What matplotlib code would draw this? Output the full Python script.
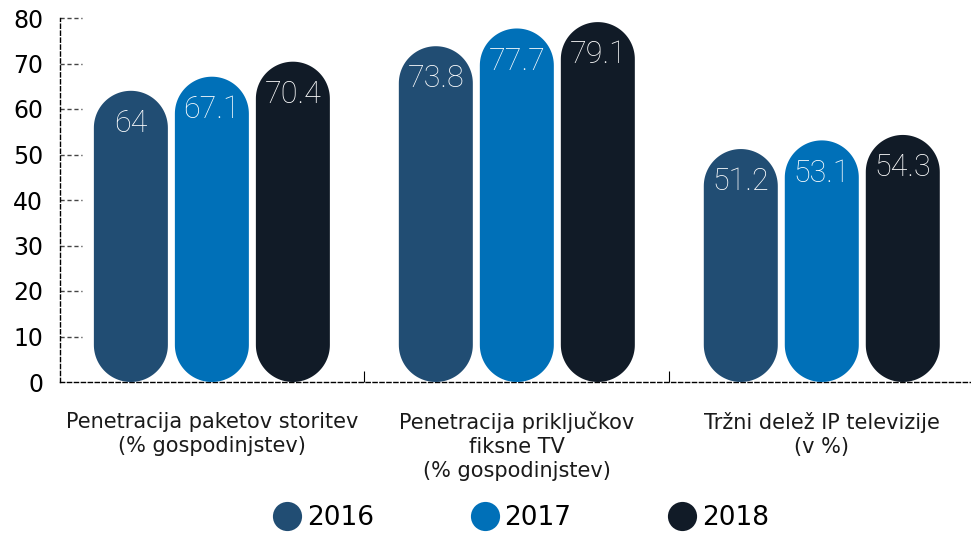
import numpy as np
import matplotlib
matplotlib.use("Agg")
import matplotlib.pyplot as plt
from matplotlib.patches import Polygon
from matplotlib.lines import Line2D
import matplotlib.transforms as mtransforms

plt.rcParams['font.family'] = ['DejaVu Sans']

categories = ["Penetracija paketov storitev\n(% gospodinjstev)",
              "Penetracija priključkov\nfiksne TV\n(% gospodinjstev)",
              "Tržni delež IP televizije\n(v %)"]
years = ["2016", "2017", "2018"]
values = {
    "2016": [64, 73.8, 51.2],
    "2017": [67.1, 77.7, 53.1],
    "2018": [70.4, 79.1, 54.3],
}
labels = {
    "2016": ["64", "73.8", "51.2"],
    "2017": ["67.1", "77.7", "53.1"],
    "2018": ["70.4", "79.1", "54.3"],
}
colors = {"2016": "#214d73", "2017": "#0070b8", "2018": "#111b27"}

W, H = 971, 533
fig = plt.figure(figsize=(W / 100, H / 100), dpi=100)
ax = fig.add_axes([60 / W, (H - 382) / H, 910 / W, 364 / H])
xmin, xmax = -0.498, 2.486
ax.set_xlim(xmin, xmax)
ax.set_ylim(0, 80)

# pixel scale, so the rounded ends stay circular
px_x = 910 / (xmax - xmin)
px_y = 364 / 80
bar_w = 74 / px_x
offset = 81 / px_x
rx = bar_w / 2
ry = (74 / 2) / px_y


def pill(cx, top):
    t1 = np.linspace(0, np.pi, 60)
    t2 = np.linspace(np.pi, 2 * np.pi, 60)
    xs = np.concatenate([cx + rx * np.cos(t1), cx + rx * np.cos(t2)])
    ys = np.concatenate([top - ry + ry * np.sin(t1), ry + ry * np.sin(t2)])
    return np.column_stack([xs, ys])


for i, yr in enumerate(years):
    for j, v in enumerate(values[yr]):
        cx = j + (i - 1) * offset
        ax.add_patch(Polygon(pill(cx, v), closed=True, facecolor=colors[yr],
                             edgecolor='none', zorder=3))
        ax.text(cx, v - 7.2, labels[yr][j], ha='center', va='center',
                color='white', fontsize=22, family=['Roboto', 'DejaVu Sans'],
                fontweight='light', zorder=4)

for s in ['top', 'right']:
    ax.spines[s].set_visible(False)
for s in ['left', 'bottom']:
    ax.spines[s].set_linestyle((0, (3, 2)))
    ax.spines[s].set_linewidth(1)
    ax.spines[s].set_color('black')

ax.set_yticks(range(0, 81, 10))
ax.tick_params(axis='y', length=0, pad=12, labelsize=17)
ax.set_xticks([0.5, 1.5])
ax.set_xticklabels([])
ax.tick_params(axis='x', direction='in', length=8, width=0.8)

trans = mtransforms.blended_transform_factory(ax.transAxes, ax.transData)
for y in range(10, 81, 10):
    ax.plot([0, 22 / 910], [y, y], transform=trans, color='#444444',
            linestyle=(0, (3, 2)), linewidth=1, clip_on=False)

ctrans = mtransforms.blended_transform_factory(ax.transData, ax.transAxes)
for j, c in enumerate(categories):
    ax.text(j, -0.082, c, ha='center', va='top', fontsize=15,
            linespacing=1.25, transform=ctrans, color='#1a1a1a')

handles = [Line2D([], [], marker='o', linestyle='none', markersize=21,
                  markerfacecolor=colors[yr], markeredgecolor='none')
           for yr in years]
fig.legend(handles, years, loc='center', bbox_to_anchor=(520 / W, 1 - 518 / H),
           ncol=3, frameon=False, fontsize=19, columnspacing=3.6,
           handletextpad=0.15, handlelength=1.2)

fig.savefig("out.png", dpi=100)
